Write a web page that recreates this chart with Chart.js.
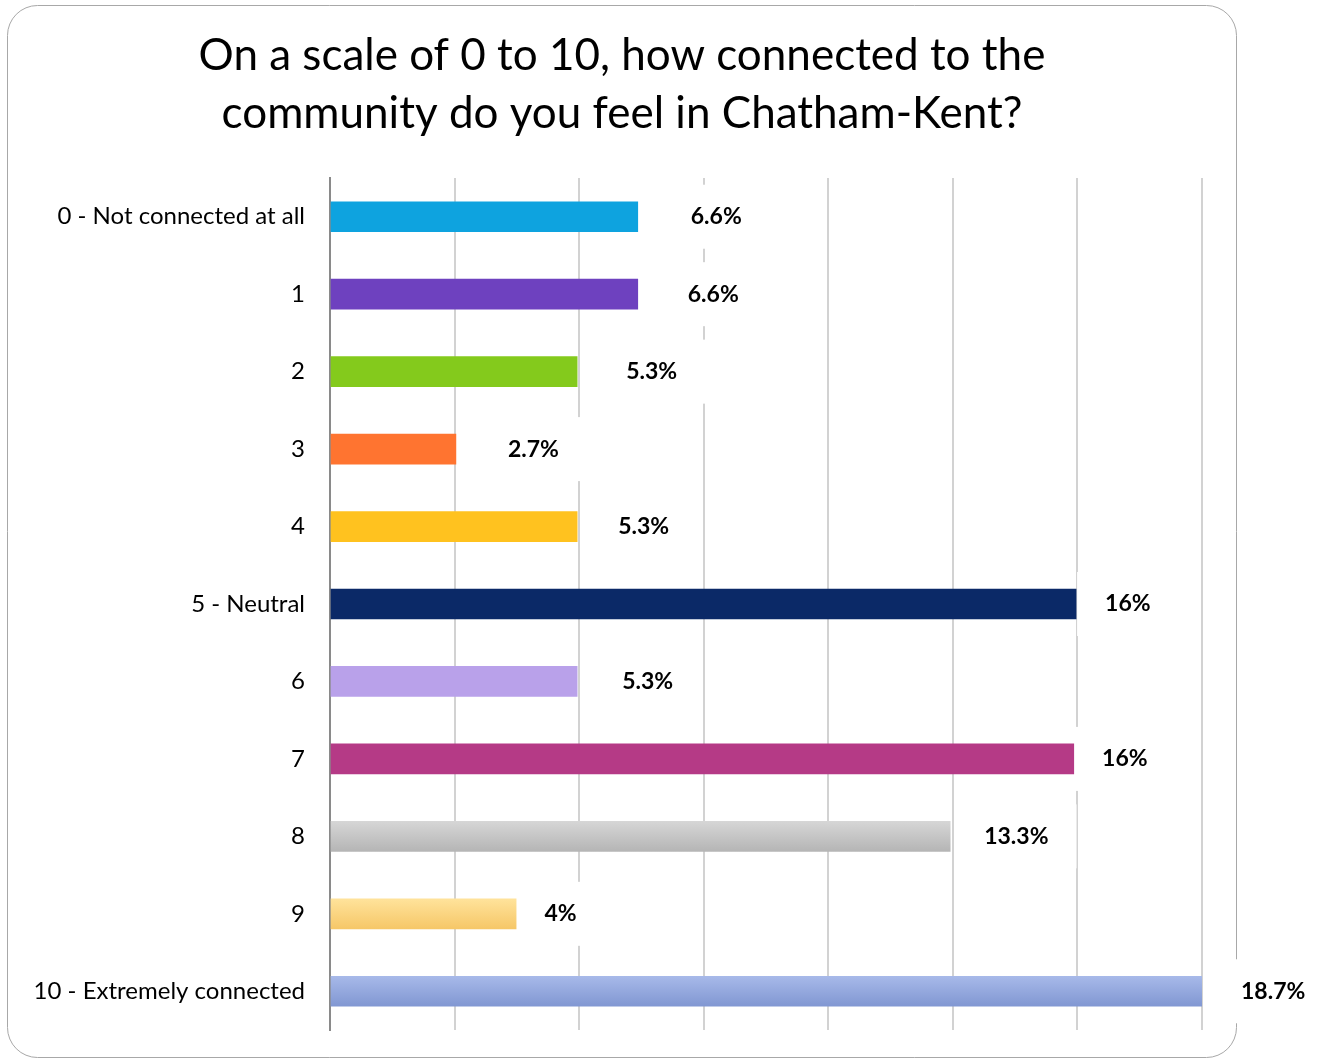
<!DOCTYPE html>
<html>
<head>
<meta charset="utf-8">
<script src="https://cdn.jsdelivr.net/npm/chart.js@4"></script>
<style>
  html, body { margin: 0; padding: 0; background: #fff; }
  #wrap { position: relative; width: 1320px; height: 1059px; }
</style>
</head>
<body>
<div id="wrap"><canvas id="chartCanvas"></canvas></div>
<script>
const titleLines = ['On a scale of 0 to 10, how connected to the', 'community do you feel in Chatham-Kent?'];
const categories = ['0 - Not connected at all', '1', '2', '3', '4', '5 - Neutral', '6', '7', '8', '9', '10 - Extremely connected'];
const percents = [6.6, 6.6, 5.3, 2.7, 5.3, 16, 5.3, 16, 13.3, 4, 18.7];
const barColors = ['#0ea3df', '#6e41bf', '#84ca1c', '#ff7430', '#ffc21f', '#0b2967', '#b9a1ea', '#b53a86', null, null, null];
// gradient bars (top, bottom)
const gradColors = { 8: ['#d6d6d6', '#b5b5b5'], 9: ['#ffe39b', '#f6c768'], 10: ['#a7b9e9', '#8197d2'] };
// how far each value label sits from its bar end
const labelGap = [53, 50, 49, 52, 41, 29, 45, 26, 34, 28, 39];

const FONT = 'Lato, "Open Sans", sans-serif';

function barFill(ctx) {
    const i = ctx.dataIndex;
    if (!gradColors[i]) return barColors[i];
    const chart = ctx.chart;
    const y = chart.scales.y;
    if (!chart.chartArea || !y) return gradColors[i][1];
    const mid = y.getPixelForValue(i);
    const g = chart.ctx.createLinearGradient(0, mid - 15, 0, mid + 15);
    g.addColorStop(0, gradColors[i][0]);
    g.addColorStop(1, gradColors[i][1]);
    return g;
}

const frameAndTitle = {
    id: 'frameAndTitle',
    beforeDraw(chart) {
        const c = chart.ctx;
        c.save();
        c.fillStyle = '#fff';
        c.fillRect(0, 0, chart.width, chart.height);
        c.strokeStyle = '#a8a8a8';
        c.lineWidth = 1;
        c.beginPath();
        c.roundRect(7.5, 5.5, 1229, 1052, 30);
        c.stroke();
        c.fillStyle = '#000';
        c.font = '44px ' + FONT;
        c.textAlign = 'center';
        c.textBaseline = 'middle';
        c.fillText(titleLines[0], 622, 56);
        c.fillText(titleLines[1], 622, 114);
        c.restore();
    }
};

const valueLabels = {
    id: 'valueLabels',
    afterDatasetsDraw(chart) {
        const c = chart.ctx;
        const meta = chart.getDatasetMeta(0);
        c.save();
        c.font = 'bold 23px ' + FONT;
        c.textBaseline = 'middle';
        meta.data.forEach((bar, i) => {
            const txt = percents[i] + '%';
            const w = c.measureText(txt).width;
            const x = bar.x + labelGap[i];
            c.fillStyle = '#fff';
            c.fillRect(x - 28, bar.y - 32, w + 56, 64);
            c.fillStyle = '#000';
            c.fillText(txt, x, bar.y);
        });
        c.restore();
    }
};

new Chart(document.getElementById('chartCanvas').getContext('2d'), {
    type: 'bar',
    data: {
        labels: categories,
        datasets: [{
            data: percents,
            backgroundColor: barFill,
            borderWidth: 0,
            barThickness: 30
        }]
    },
    options: {
        indexAxis: 'y',
        responsive: true,
        maintainAspectRatio: false,
        animation: false,
        layout: { padding: { top: 178, bottom: 29, right: 118, left: 0 } },
        plugins: { legend: { display: false }, tooltip: { enabled: false } },
        scales: {
            x: {
                min: 0,
                max: 18.7,
                afterFit(scale) { scale.height = 0; },
                ticks: { display: false, count: 8 },
                grid: { color: '#d2d2d2', lineWidth: 2, drawTicks: false },
                border: { display: false }
            },
            y: {
                afterFit(scale) {
                    scale.width = 330;
                    scale.paddingTop = 0;
                    scale.paddingBottom = 0;
                },
                ticks: { color: '#000', font: { family: FONT, size: 24 }, padding: 25 },
                grid: { display: false, drawTicks: false },
                border: { color: '#8a8a8a', width: 2 }
            }
        }
    },
    plugins: [frameAndTitle, valueLabels]
});
</script>
</body>
</html>
